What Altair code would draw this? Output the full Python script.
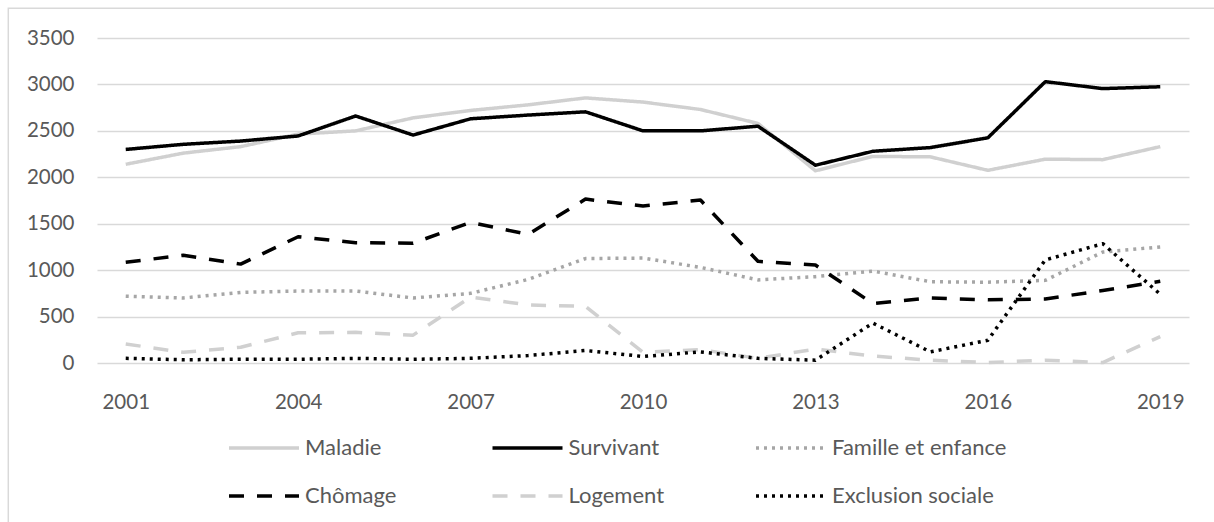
import altair as alt
import pandas as pd

# Dépenses de protection sociale par fonction, 2001-2019
years = list(range(2001, 2020))
series = ["Maladie", "Survivant", "Famille et enfance", "Chômage", "Logement", "Exclusion sociale"]

maladie = [2140, 2260, 2330, 2465, 2500, 2640, 2720, 2780, 2855, 2810, 2730, 2580, 2070, 2225, 2220, 2075, 2195, 2190, 2330]
survivant = [2300, 2355, 2390, 2445, 2660, 2455, 2630, 2670, 2705, 2500, 2500, 2550, 2130, 2280, 2320, 2425, 3030, 2955, 2975]
famille = [720, 700, 760, 775, 775, 700, 750, 900, 1125, 1130, 1030, 895, 930, 990, 875, 870, 890, 1195, 1250]
chomage = [1085, 1160, 1065, 1360, 1295, 1290, 1515, 1385, 1765, 1690, 1755, 1095, 1055, 640, 700, 680, 690, 780, 880]
logement = [205, 115, 170, 325, 330, 300, 710, 625, 610, 115, 145, 50, 150, 75, 30, 5, 30, 5, 285]
exclusion = [50, 35, 40, 40, 50, 40, 50, 80, 135, 70, 120, 50, 30, 430, 120, 245, 1110, 1285, 740]

x_ticks = [2001, 2004, 2007, 2010, 2013, 2016, 2019]
y_ticks = [0, 500, 1000, 1500, 2000, 2500, 3000, 3500]

colors = ["#d0d0d0", "#000000", "#a6a6a6", "#000000", "#d0d0d0", "#000000"]
dashes = [[1, 0], [1, 0], [3, 5], [15, 13], [15, 13], [3, 5]]

values = [maladie, survivant, famille, chomage, logement, exclusion]
rows = []
for name, vals in zip(series, values):
    for yr, v in zip(years, vals):
        rows.append({"annee": yr, "valeur": v, "serie": name})
df = pd.DataFrame(rows)

FONT = "Lato"
TEXT = "#595959"
GRID = "#d9d9d9"

W, H = 1092, 325

lines = alt.Chart(df).mark_line(strokeWidth=3.5, strokeCap="butt", strokeJoin="round").encode(
    x=alt.X("annee:Q",
            scale=alt.Scale(domain=[2000.5, 2019.5], nice=False, zero=False),
            axis=alt.Axis(values=x_ticks, format="d", title=None, grid=False, ticks=False,
                          domain=False, labelPadding=29, labelFontSize=20.5, labelFont=FONT,
                          labelColor=TEXT)),
    y=alt.Y("valeur:Q",
            scale=alt.Scale(domain=[0, 3500], nice=False),
            axis=alt.Axis(values=y_ticks, format="d", title=None, ticks=False, domain=False,
                          gridColor=GRID, gridWidth=1.4, labelPadding=23, labelFontSize=20.5,
                          labelFont=FONT, labelColor=TEXT)),
    color=alt.Color("serie:N", scale=alt.Scale(domain=series, range=colors),
                    legend=alt.Legend(title=None)),
    strokeDash=alt.StrokeDash("serie:N", scale=alt.Scale(domain=series, range=dashes),
                              legend=alt.Legend(title=None)),
)

# Cadre de la zone de graphique
frame = alt.Chart(alt.Data(values=[{}])).mark_rect(
    fillOpacity=0, stroke=GRID, strokeWidth=1.5, clip=False
).encode(
    x=alt.value(-88.7), y=alt.value(-29.7), x2=alt.value(W + 400), y2=alt.value(H + 400)
)

chart = alt.layer(frame, lines).properties(
    width=W, height=H,
    autosize=alt.AutoSizeParams(type="none"),
    padding={"left": 97, "top": 38, "right": 25, "bottom": 159},
).configure_view(stroke=None).configure_legend(
    orient="none", legendX=130, legendY=373, direction="horizontal", columns=3,
    gridAlign="all", symbolType="stroke", symbolSize=4900, symbolStrokeWidth=3.5,
    labelFont=FONT, labelFontSize=22, labelColor=TEXT, labelOffset=4, labelLimit=400,
    columnPadding=5.5, rowPadding=-24, padding=0,
)

chart.save("out.html", embed_options={"renderer": "svg", "actions": False})
